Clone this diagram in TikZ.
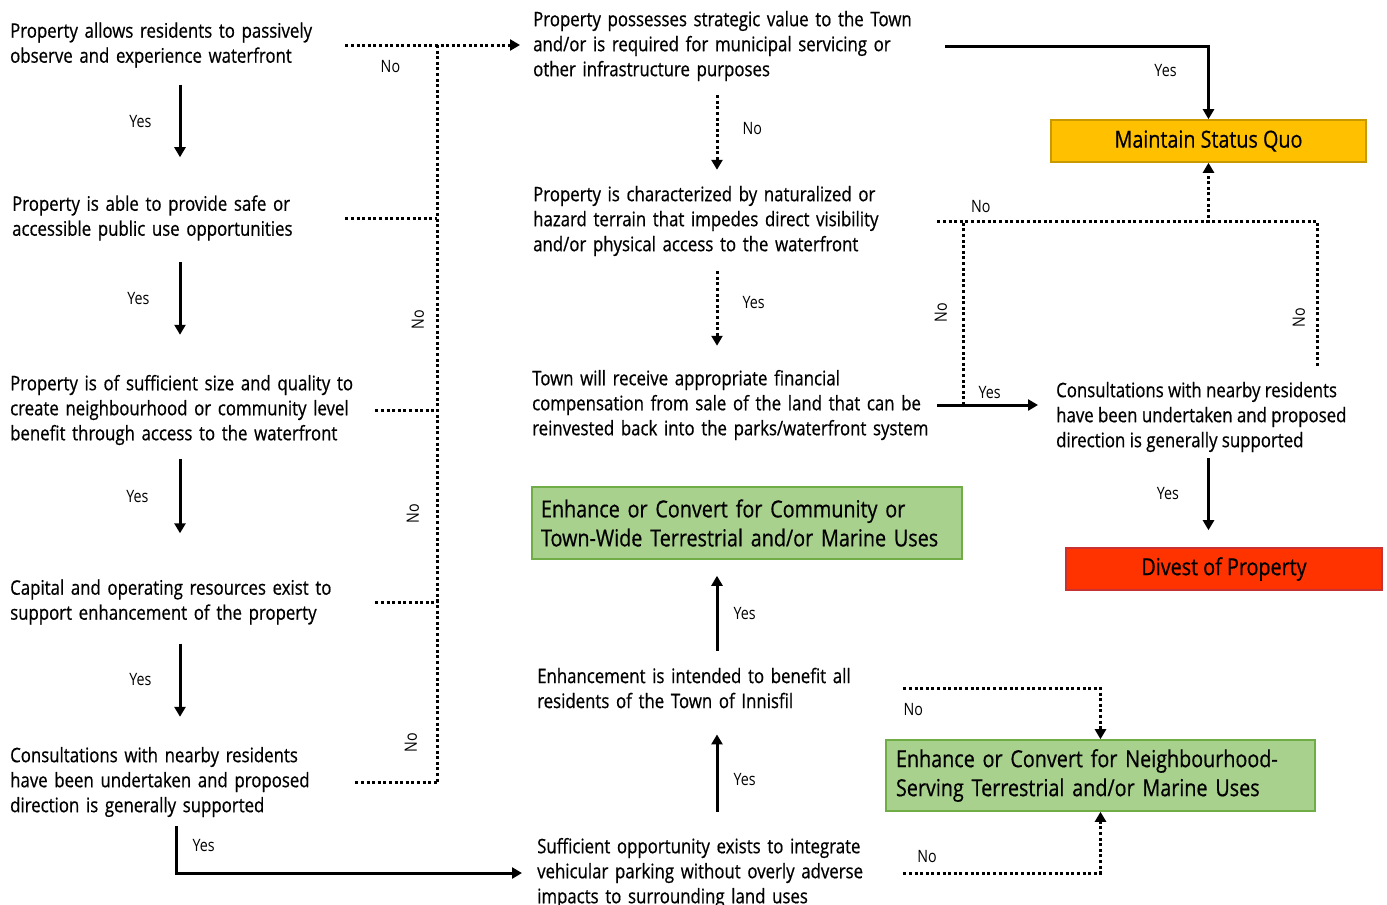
\documentclass[tikz,border=0pt]{standalone}
\usepackage{fontspec}
\setmainfont{Open Sans}[FakeStretch=0.84, FakeBold=0.6]
\newfontfamily\answerfont{Open Sans}[FakeStretch=0.84]
\usetikzlibrary{arrows.meta}

\definecolor{quofill}{HTML}{FFC000}
\definecolor{quoline}{HTML}{C99A00}
\definecolor{divfill}{HTML}{FF3300}
\definecolor{divline}{HTML}{C83232}
\definecolor{enhfill}{HTML}{A9D18E}
\definecolor{enhline}{HTML}{70AD47}

\begin{document}
\begin{tikzpicture}[x=1pt,y=-1pt]
    \tikzstyle{question} = [anchor=west, align=left, inner sep=0pt, font=\fontsize{20}{25}\selectfont]
    \tikzstyle{outcome} = [draw, line width=1.6pt, inner sep=0pt, font=\fontsize{23.5}{29}\selectfont]
    \tikzstyle{yes} = [line width=3pt, -{Triangle[length=10pt,width=11pt]}]
    \tikzstyle{no} = [line width=3pt, dash pattern=on 3pt off 2.6pt]
    \tikzstyle{answer} = [font=\answerfont\fontsize{17}{20}\selectfont, inner sep=0pt]

    \useasboundingbox (0,0) rectangle (1387,905);

      % questions, left column
      \draw
        (10, 45) node[question, text width=335pt] (0){Property allows residents to passively\\observe and experience waterfront}
        (12, 218) node[question, text width=333pt] (1){Property is able to provide safe or\\accessible public use opportunities}
        (10, 410) node[question, text width=365pt] (2){Property is of sufficient size and quality to\\create neighbourhood or community level\\benefit through access to the waterfront}
        (10, 602) node[question, text width=365pt] (3){Capital and operating resources exist to\\support enhancement of the property}
        (10, 782) node[question, text width=345pt] (4){Consultations with nearby residents\\have been undertaken and proposed\\direction is generally supported};

      % questions, middle and right
      \draw
        (533, 46) node[question, text width=412pt] (5){Property possesses strategic value to the Town\\and/or is required for municipal servicing or\\other infrastructure purposes}
        (533, 221) node[question, text width=404pt] (6){Property is characterized by naturalized or\\hazard terrain that impedes direct visibility\\and/or physical access to the waterfront}
        (532, 405) node[question, text width=405pt] (7){Town will receive appropriate financial\\compensation from sale of the land that can be\\reinvested back into the parks/waterfront system}
        (537, 688) node[question, text width=366pt] (8){Enhancement is intended to benefit all\\residents of the Town of Innisfil}
        (537, 873) node[question, text width=366pt] (9){Sufficient opportunity exists to integrate\\vehicular parking without overly adverse\\impacts to surrounding land uses}
        (1056, 417) node[question] (10){Consultations with nearby residents\\have been undertaken and proposed\\direction is generally supported};

      % outcomes
      \draw
        (1208.5, 141) node[outcome, fill=quofill, draw=quoline, minimum width=315pt, minimum height=42pt] (11){Maintain Status Quo}
        (1224, 569) node[outcome, fill=divfill, draw=divline, minimum width=316pt, minimum height=42pt] (12){Divest of Property}
        (747, 523) node[outcome, fill=enhfill, draw=enhline, text width=412pt, inner xsep=9pt, minimum height=72pt, align=left] (13){Enhance or Convert for Community or\\Town-Wide Terrestrial and/or Marine Uses}
        (1100.5, 775.5) node[outcome, fill=enhfill, draw=enhline, text width=409pt, inner xsep=10pt, minimum height=71pt, align=left] (14){Enhance or Convert for Neighbourhood-\\Serving Terrestrial and/or Marine Uses};

      \coordinate (lc) at (180, 0);
      \coordinate (ly) at (176, 0);
      \coordinate (bus) at (437, 0);
      \coordinate (mc) at (717, 0);
      \coordinate (rb) at (963, 0);
      \coordinate (rr) at (1317, 0);

      % yes, left column
      \draw[yes, shorten <=17pt, shorten >=38pt] (0.south -| lc) to node[answer, pos=0.42, left=27pt] {Yes} (1.north -| lc);
      \draw[yes, shorten <=21pt, shorten >=40pt] (1.south -| lc) to node[answer, pos=0.43, left=29pt] {Yes} (2.north -| lc);
      \draw[yes, shorten <=14pt, shorten >=46pt] (2.south -| lc) to node[answer, pos=0.38, left=30pt] {Yes} (3.north -| lc);
      \draw[yes, shorten <=19pt, shorten >=30pt] (3.south -| lc) to node[answer, pos=0.45, left=27pt] {Yes} (4.north -| lc);
      \draw[yes, shorten <=9pt, shorten >=15pt] (4.south -| ly) |- node[answer, pos=0.25, right=15pt] {Yes} (9.west);

      % no, left column
      \draw[no, -{Triangle[length=10pt,width=11pt]}, shorten >=13pt] (0.east) -- node[answer, pos=0.24, below=14pt] {No} (0.east -| 5.west);
      \draw[no] (1.east) -- (1.east -| bus);
      \draw[no] (2.east) -- (2.east -| bus);
      \draw[no] (3.east) -- (3.east -| bus);
      \draw[no] (4.east) -- (4.east -| bus);
      \draw[no] (0.east -| bus) -- (1.east -| bus)
        -- node[answer, pos=0.53, xshift=-19pt, rotate=90] {No} (2.east -| bus)
        -- node[answer, pos=0.54, xshift=-24pt, rotate=90] {No} (3.east -| bus)
        -- node[answer, pos=0.78, xshift=-26pt, rotate=90] {No} (4.east -| bus);

      % middle column
      \draw[yes] (5.east) -| node[answer, pos=0.5, xshift=-43pt, yshift=-25pt] {Yes} (11.north);
      \draw[no, -{Triangle[length=10pt,width=11pt]}, shorten <=14pt, shorten >=16pt] (5.south -| mc) to node[answer, pos=0.45, right=24pt] {No} (6.north -| mc);
      \draw[no, -{Triangle[length=10pt,width=11pt]}, shorten <=15pt, shorten >=24pt] (6.south -| mc) to node[answer, pos=0.41, right=24pt] {Yes} (7.north -| mc);
      \draw[yes, shorten >=18pt] (7.east) -- node[answer, pos=0.44, above=5pt] {Yes} (7.east -| 10.west);
      \draw[no, -{Triangle[length=10pt,width=11pt]}] (6.east) -| node[answer, pos=0.08, above=7pt] {No} (11.south);
      \draw[no] (7.east -| rb) -- node[answer, pos=0.5, xshift=-22pt, rotate=90] {No} (6.east -| rb);
      \draw[no, shorten <=16pt] (10.north -| rr) |- node[answer, pos=0.2, xshift=-18pt, rotate=90] {No} (11.south |- 6.east);
      \draw[yes, shorten <=6pt, shorten >=17pt] (11.south |- 10.south) to node[answer, pos=0.44, left=28pt] {Yes} (11.south |- 12.north);

      % lower middle
      \draw[yes, shorten <=17pt, shorten >=16pt] (8.north -| mc) to node[answer, right=15pt] {Yes} (13.south -| mc);
      \draw[yes, shorten <=26pt, shorten >=26pt] (9.north -| mc) to node[answer, pos=0.45, right=15pt] {Yes} (8.south -| mc);
      \draw[no, -{Triangle[length=10pt,width=11pt]}] (8.east) -| node[answer, pos=0.025, below=14pt] {No} (14.north);
      \draw[no, -{Triangle[length=10pt,width=11pt]}] (9.east) -| node[answer, pos=0.06, above=9pt] {No} (14.south);
    \end{tikzpicture}
\end{document}
